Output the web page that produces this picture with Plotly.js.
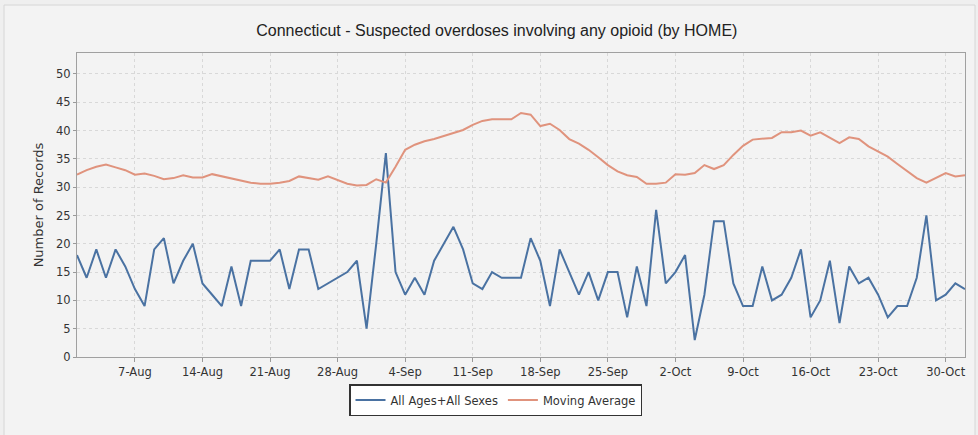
<!DOCTYPE html>
<html>
<head>
<meta charset="utf-8">
<script src="https://cdn.plot.ly/plotly-3.0.1.min.js"></script>
<style>
  html, body { margin: 0; padding: 0; background: #efefef; }
  #chart { width: 978px; height: 435px; }
</style>
</head>
<body>
<div id="chart"></div>
<script>
// Dates: daily from 1-Aug to 1-Nov
const startDate = '2017-08-01';
const dayCount = 93;

// Daily suspected overdoses (All Ages + All Sexes)
const allAgesAllSexes = [
  18, 14, 19, 14, 19, 16, 12, 9, 19, 21,
  13, 17, 20, 13, 11, 9, 16, 9, 17, 17,
  17, 19, 12, 19, 19, 12, 13, 14, 15, 17,
  5, 20, 36, 15, 11, 14, 11, 17, 20, 23,
  19, 13, 12, 15, 14, 14, 14, 21, 17, 9,
  19, 15, 11, 15, 10, 15, 15, 7, 16, 9,
  26, 13, 15, 18, 3, 11, 24, 24, 13, 9,
  9, 16, 10, 11, 14, 19, 7, 10, 17, 6,
  16, 13, 14, 11, 7, 9, 9, 14, 25, 10,
  11, 13, 12
];

// Moving average
const movingAverage = [
  32.2, 33.0, 33.6, 34.0, 33.5, 33.0, 32.2, 32.4, 32.0, 31.4,
  31.6, 32.1, 31.7, 31.7, 32.3, 31.9, 31.6, 31.2, 30.8, 30.6,
  30.6, 30.8, 31.1, 31.9, 31.6, 31.3, 31.9, 31.3, 30.6, 30.3,
  30.4, 31.4, 30.8, 33.6, 36.6, 37.5, 38.1, 38.5, 39.0, 39.6,
  40.1, 41.0, 41.7, 42.0, 42.0, 42.0, 43.1, 42.8, 40.8, 41.2,
  40.1, 38.5, 37.7, 36.6, 35.3, 33.9, 32.8, 32.1, 31.8, 30.6,
  30.6, 30.8, 32.3, 32.2, 32.5, 33.9, 33.2, 33.9, 35.7, 37.3,
  38.4, 38.6, 38.7, 39.7, 39.7, 40.0, 39.1, 39.7, 38.8, 37.8,
  38.8, 38.5, 37.2, 36.3, 35.4, 34.1, 32.9, 31.6, 30.8, 31.6,
  32.5, 31.9, 32.1
];

const seriesNames = ['All Ages+All Sexes', 'Moving Average'];
const seriesColors = ['#4a72a2', '#e0937d'];

function buildDates(start, n) {
  const out = [];
  const d0 = new Date(start + 'T00:00:00Z');
  for (let i = 0; i < n; i++) {
    const d = new Date(d0.getTime() + i * 86400000);
    out.push(d.toISOString().slice(0, 10));
  }
  return out;
}
const dates = buildDates(startDate, dayCount);

const traces = [
  { x: dates, y: allAgesAllSexes, name: seriesNames[0], type: 'scatter', mode: 'lines',
    line: { color: seriesColors[0], width: 2 } },
  { x: dates, y: movingAverage, name: seriesNames[1], type: 'scatter', mode: 'lines',
    line: { color: seriesColors[1], width: 2 } }
];

const L = 77, R = 13, T = 53, B = 78, W = 978, H = 435;
const pw = W - L - R, ph = H - T - B;
function px(x) { return (x - L) / pw; }
function py(y) { return (H - B - y) / ph; }

const layout = {
  width: W, height: H,
  margin: { l: L, r: R, t: T, b: B },
  paper_bgcolor: '#efefef',
  plot_bgcolor: '#ffffff',
  font: { family: 'DejaVu Sans, sans-serif', size: 11.5, color: '#333333' },
  title: {
    text: 'Connecticut - Suspected overdoses involving any opioid (by HOME)',
    font: { family: 'Liberation Sans, Arial, sans-serif', size: 16, color: '#222222' },
    xref: 'container', x: 0.508, xanchor: 'center',
    yref: 'container', y: 1 - 30 / H, yanchor: 'middle'
  },
  xaxis: {
    type: 'date',
    range: [dates[0], dates[dates.length - 1]],
    tick0: '2017-08-07',
    dtick: 7 * 86400000,
    tickformat: '%-d-%b',
    ticks: 'outside', ticklen: 4, tickcolor: '#999999',
    showgrid: true, gridcolor: '#d8d8d8', griddash: 'dot', gridwidth: 1,
    showline: true, linecolor: '#a0a0a0', linewidth: 1, mirror: true,
    zeroline: false,
    tickfont: { size: 11.5, color: '#333333' }
  },
  yaxis: {
    range: [0, 53.7],
    dtick: 5, tick0: 0,
    ticks: 'outside', ticklen: 3, tickcolor: '#999999',
    showgrid: true, gridcolor: '#d8d8d8', griddash: 'dot', gridwidth: 1,
    showline: true, linecolor: '#a0a0a0', linewidth: 1, mirror: true,
    zeroline: false,
    tickfont: { size: 11.5, color: '#333333' },
    title: { text: 'Number of Records', font: { size: 13, color: '#333333' }, standoff: 9 }
  },
  showlegend: true,
  legend: {
    orientation: 'h',
    x: px(495.5), xanchor: 'center',
    y: py(400), yanchor: 'middle',
    bgcolor: '#ffffff', bordercolor: '#333333', borderwidth: 1.5,
    font: { size: 11.5, color: '#333333' },
    itemwidth: 30, tracegroupgap: 0
  },
  shapes: [
    { type: 'rect', xref: 'paper', yref: 'paper', layer: 'below',
      x0: px(4), x1: px(975), y0: py(440), y1: py(5),
      line: { color: '#d6d6d6', width: 1 }, fillcolor: '#f3f3f3' }
  ]
};

Plotly.newPlot('chart', traces, layout, { displayModeBar: false, staticPlot: true });
</script>
</body>
</html>
